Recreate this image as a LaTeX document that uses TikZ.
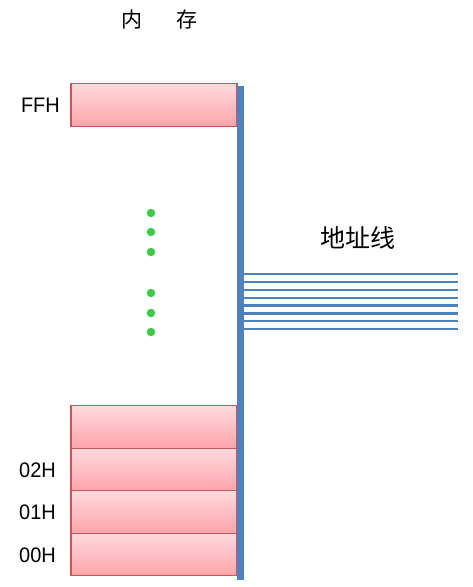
\documentclass[tikz,border=0pt]{standalone}
\usepackage{fontspec}
\setmainfont{Liberation Sans}
\newfontfamily\cjk{Noto Sans CJK SC}
\definecolor{busblue}{HTML}{4F81BD}
\definecolor{boxedge}{HTML}{C9565C}
\definecolor{boxtop}{HTML}{FFDADD}
\definecolor{boxbot}{HTML}{FFA3AA}
\definecolor{dotgreen}{HTML}{3CCB45}
\begin{document}
\begin{tikzpicture}[x=1pt,y=-1pt,
  membox/.style={draw=boxedge,line width=1.2pt,top color=boxtop,bottom color=boxbot,
    minimum width=166pt,minimum height=42.5pt,inner sep=0pt,outer sep=0pt},
  addrlabel/.style={font=\fontsize{21}{21}\selectfont,inner sep=0pt,anchor=east,xscale=0.95},
  cjklabel/.style={font=\cjk\fontsize{21}{21}\selectfont,inner sep=0pt},
  dotmark/.style={circle,fill=dotgreen,minimum size=8.5pt,inner sep=0pt},
  addrline/.style={draw=busblue,line width=2.5pt}]
\useasboundingbox (0,0) rectangle (473,587);
% title
\node[cjklabel] (nei) at (132,20) {内};
\node[cjklabel] (cun) at (187,20) {存};
% top box
\node[membox] (ffh) at (154,105) {};
\node[addrlabel] (ffhl) at (60,105) {FFH};
% bottom boxes
\node[membox] (m3) at (154,427) {};
\node[membox] (m2) at (154,469.5) {};
\node[membox] (m1) at (154,512) {};
\node[membox] (m0) at (154,554.5) {};
\node[addrlabel] (l2) at (56,470) {02H};
\node[addrlabel] (l1) at (56,512) {01H};
\node[addrlabel] (l0) at (56,555) {00H};
% dots
\foreach \y [count=\i] in {213,232,252,293,313,332}
  \node[dotmark] (d\i) at (151,\y) {};
% address bus bar
\fill[busblue] (236.5,86) rectangle (243.5,580);
\coordinate (bar) at (243,300);
% address lines
\foreach \y [count=\i] in {274,282,290,298,305.5,313.5,321,329}
  \draw[addrline] (243,\y) -- (458,\y);
\node[cjklabel,font=\cjk\fontsize{25}{25}\selectfont] (addr) at (358,238) {地址线};
\end{tikzpicture}
\end{document}
